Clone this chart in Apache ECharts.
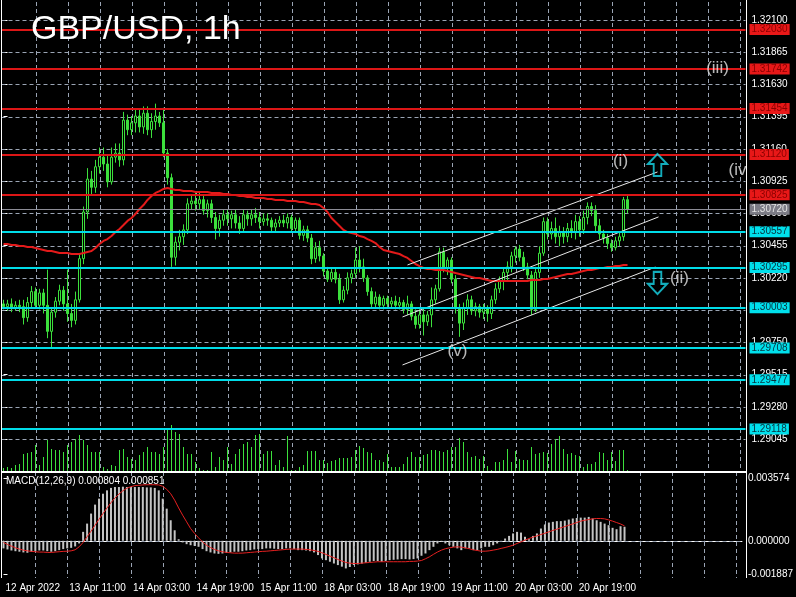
<!DOCTYPE html>
<html>
<head>
<meta charset="utf-8">
<script src="https://cdn.jsdelivr.net/npm/echarts@6/dist/echarts.min.js"></script>
<style>
html,body{margin:0;padding:0;background:#000;}
#chart{width:796px;height:597px;}
</style>
</head>
<body>
<div id="chart"></div>
<script>
// ---------- DATA ----------
const timeLabels = ['12 Apr 2022','13 Apr 11:00','14 Apr 03:00','14 Apr 19:00','15 Apr 11:00','18 Apr 03:00','18 Apr 19:00','19 Apr 11:00','20 Apr 03:00','20 Apr 19:00'];
const priceTicks = [1.32100,1.31865,1.31630,1.31395,1.31160,1.30925,1.30690,1.30455,1.30220,1.29985,1.29750,1.29515,1.29280,1.29045];
const macdTicks = [0.003574, 0, -0.001887];
const redLevels = [1.32030,1.31742,1.31454,1.31120,1.30825];
const cyanLevels = [1.30557,1.30295,1.30003,1.29708,1.29477,1.29118];
const currentPrice = 1.30720;

const opens = [1.3003,1.3001,1.3003,1.3000,1.3002,1.3001,1.2993,1.3004,1.3012,1.3002,
1.3011,1.3002,1.2983,1.2997,1.3005,1.3013,1.3003,1.2996,1.2991,1.3006,
1.3036,1.3070,1.3094,1.3088,1.3103,1.3110,1.3105,1.3092,1.3110,1.3113,
1.3108,1.3137,1.3130,1.3135,1.3140,1.3132,1.3142,1.3130,1.3136,1.3140,
1.3135,1.3113,1.3095,1.3037,1.3048,1.3052,1.3057,1.3076,1.3078,1.3076,
1.3079,1.3071,1.3076,1.3066,1.3058,1.3064,1.3068,1.3065,1.3068,1.3062,
1.3058,1.3068,1.3065,1.3068,1.3066,1.3063,1.3065,1.3064,1.3059,1.3062,
1.3064,1.3062,1.3066,1.3058,1.3064,1.3053,1.3057,1.3051,1.3036,1.3044,
1.3038,1.3027,1.3021,1.3026,1.3021,1.3006,1.3013,1.3022,1.3025,1.3035,
1.3030,1.3022,1.3012,1.3003,1.3008,1.3002,1.3007,1.3003,1.3005,1.3002,
1.3004,1.2999,1.3003,1.2994,1.2988,1.2995,1.2990,1.2995,1.3006,1.3014,
1.3041,1.3029,1.3035,1.3021,1.3000,1.2989,1.3000,1.3006,1.2998,1.3001,
1.2997,1.3000,1.2996,1.3006,1.3014,1.3020,1.3026,1.3030,1.3038,1.3043,
1.3037,1.3030,1.3024,1.2999,1.3026,1.3040,1.3063,1.3054,1.3058,1.3052,
1.3055,1.3052,1.3058,1.3055,1.3063,1.3057,1.3066,1.3074,1.3071,1.3060,
1.3054,1.3051,1.3047,1.3044,1.3049,1.3052,1.3079];
const highs = [1.3006,1.3006,1.3007,1.3005,1.3006,1.3006,1.3008,1.3016,1.3015,1.3014,
1.3014,1.3028,1.3000,1.3008,1.3017,1.3016,1.3028,1.3003,1.3012,1.3039,
1.3074,1.3102,1.3100,1.3108,1.3117,1.3117,1.3112,1.3117,1.3120,1.3120,
1.3143,1.3141,1.3140,1.3145,1.3145,1.3147,1.3147,1.3142,1.3149,1.3143,
1.3146,1.3116,1.3098,1.3052,1.3057,1.3061,1.3080,1.3083,1.3085,1.3084,
1.3082,1.3079,1.3079,1.3070,1.3068,1.3072,1.3072,1.3071,1.3072,1.3067,
1.3072,1.3071,1.3072,1.3073,1.3070,1.3069,1.3069,1.3066,1.3065,1.3067,
1.3068,1.3069,1.3068,1.3066,1.3066,1.3060,1.3060,1.3054,1.3048,1.3049,
1.3040,1.3030,1.3029,1.3029,1.3025,1.3016,1.3026,1.3028,1.3044,1.3045,
1.3036,1.3024,1.3015,1.3012,1.3010,1.3009,1.3009,1.3008,1.3009,1.3008,
1.3006,1.3009,1.3005,1.2999,1.2999,1.3000,1.2998,1.3015,1.3017,1.3044,
1.3044,1.3037,1.3037,1.3024,1.3003,1.3004,1.3010,1.3009,1.3004,1.3003,
1.3003,1.3002,1.3009,1.3018,1.3023,1.3029,1.3034,1.3041,1.3045,1.3046,
1.3041,1.3033,1.3027,1.3030,1.3045,1.3066,1.3066,1.3063,1.3066,1.3060,
1.3059,1.3062,1.3064,1.3068,1.3067,1.3071,1.3077,1.3077,1.3075,1.3065,
1.3057,1.3054,1.3050,1.3052,1.3055,1.3081,1.3082];
const lows = [1.2999,1.2998,1.2997,1.2998,1.2997,1.2988,1.2990,1.3000,1.3000,1.2999,
1.2996,1.2978,1.2971,1.2993,1.3002,1.2998,1.2990,1.2986,1.2988,1.3004,
1.3032,1.3065,1.3082,1.3084,1.3098,1.3100,1.3088,1.3090,1.3106,1.3103,
1.3104,1.3126,1.3126,1.3128,1.3128,1.3127,1.3126,1.3124,1.3130,1.3132,
1.3110,1.3090,1.3030,1.3031,1.3042,1.3046,1.3054,1.3072,1.3071,1.3072,
1.3068,1.3066,1.3062,1.3050,1.3052,1.3060,1.3060,1.3058,1.3058,1.3054,
1.3055,1.3060,1.3060,1.3062,1.3058,1.3060,1.3060,1.3056,1.3056,1.3059,
1.3059,1.3058,1.3055,1.3055,1.3050,1.3049,1.3048,1.3032,1.3033,1.3034,
1.3023,1.3019,1.3019,1.3018,1.3003,1.3004,1.3010,1.3018,1.3022,1.3026,
1.3019,1.3009,1.3000,1.3000,1.2999,1.2999,1.3000,1.3000,1.2999,1.2999,
1.2996,1.2995,1.2991,1.2985,1.2985,1.2980,1.2987,1.2986,1.3003,1.3012,
1.3026,1.3024,1.3018,1.2996,1.2979,1.2984,1.2995,1.2995,1.2994,1.2993,
1.2992,1.2990,1.2992,1.3003,1.3011,1.3013,1.3020,1.3026,1.3033,1.3034,
1.3027,1.3021,1.2995,1.2997,1.3022,1.3038,1.3050,1.3050,1.3047,1.3045,
1.3047,1.3048,1.3051,1.3050,1.3052,1.3054,1.3061,1.3067,1.3056,1.3050,
1.3047,1.3043,1.3041,1.3042,1.3045,1.3049,1.3069];
const closes = [1.3001,1.3003,1.3000,1.3002,1.3001,1.2993,1.3004,1.3012,1.3002,1.3011,
1.3002,1.2983,1.2997,1.3005,1.3013,1.3003,1.2996,1.2991,1.3006,1.3036,
1.3070,1.3094,1.3088,1.3103,1.3110,1.3105,1.3092,1.3110,1.3113,1.3108,
1.3137,1.3130,1.3135,1.3140,1.3132,1.3142,1.3130,1.3136,1.3140,1.3135,
1.3113,1.3095,1.3037,1.3048,1.3052,1.3057,1.3076,1.3078,1.3076,1.3079,
1.3071,1.3076,1.3066,1.3058,1.3064,1.3068,1.3065,1.3068,1.3062,1.3058,
1.3068,1.3065,1.3068,1.3066,1.3063,1.3065,1.3064,1.3059,1.3062,1.3064,
1.3062,1.3066,1.3058,1.3064,1.3053,1.3057,1.3051,1.3036,1.3044,1.3038,
1.3027,1.3021,1.3026,1.3021,1.3006,1.3013,1.3022,1.3025,1.3035,1.3030,
1.3022,1.3012,1.3003,1.3008,1.3002,1.3007,1.3003,1.3005,1.3002,1.3004,
1.2999,1.3003,1.2994,1.2988,1.2995,1.2990,1.2995,1.3006,1.3014,1.3041,
1.3029,1.3035,1.3021,1.3000,1.2989,1.3000,1.3006,1.2998,1.3001,1.2997,
1.3000,1.2996,1.3006,1.3014,1.3020,1.3026,1.3030,1.3038,1.3043,1.3037,
1.3030,1.3024,1.2999,1.3026,1.3040,1.3063,1.3054,1.3058,1.3052,1.3055,
1.3052,1.3058,1.3055,1.3063,1.3057,1.3066,1.3074,1.3071,1.3060,1.3054,
1.3051,1.3047,1.3044,1.3049,1.3052,1.3079,1.3072];
const maValues = [1.30467,1.30467,1.30460,1.30460,1.30452,1.30452,1.30445,1.30445,1.30438,1.30430,
1.30423,1.30416,1.30416,1.30409,1.30401,1.30401,1.30401,1.30394,1.30394,1.30394,
1.30401,1.30409,1.30416,1.30438,1.30467,1.30489,1.30503,1.30525,1.30554,1.30576,
1.30605,1.30635,1.30656,1.30686,1.30722,1.30751,1.30788,1.30817,1.30839,1.30853,
1.30868,1.30875,1.30868,1.30861,1.30861,1.30853,1.30853,1.30853,1.30846,1.30846,
1.30846,1.30846,1.30839,1.30839,1.30839,1.30831,1.30831,1.30824,1.30824,1.30817,
1.30817,1.30810,1.30810,1.30802,1.30802,1.30802,1.30795,1.30795,1.30788,1.30788,
1.30788,1.30780,1.30780,1.30780,1.30773,1.30773,1.30766,1.30758,1.30758,1.30751,
1.30729,1.30700,1.30656,1.30627,1.30598,1.30569,1.30554,1.30547,1.30540,1.30525,
1.30518,1.30503,1.30489,1.30474,1.30445,1.30423,1.30416,1.30409,1.30401,1.30394,
1.30379,1.30365,1.30343,1.30321,1.30306,1.30292,1.30285,1.30285,1.30277,1.30277,
1.30277,1.30270,1.30263,1.30255,1.30248,1.30241,1.30234,1.30226,1.30219,1.30219,
1.30212,1.30204,1.30197,1.30197,1.30197,1.30197,1.30197,1.30197,1.30197,1.30197,
1.30197,1.30197,1.30204,1.30204,1.30204,1.30212,1.30212,1.30219,1.30226,1.30234,
1.30241,1.30248,1.30248,1.30255,1.30263,1.30270,1.30277,1.30277,1.30285,1.30292,
1.30292,1.30299,1.30299,1.30306,1.30306,1.30314,1.30314];
const volumes = [600,800,600,1200,1400,3400,3600,3800,5200,1200,
2800,6200,4400,4200,4200,3800,5200,5800,6400,7200,
6200,5200,3800,3800,3800,800,400,1200,1000,4200,
4400,2800,2400,2200,3200,3800,4800,3800,3800,3400,
4800,8200,9200,7800,7400,4800,3400,3400,1800,600,
200,200,3800,800,2800,2200,4800,1400,3400,4400,
5400,5800,4800,7200,7400,3400,4000,4000,1200,2200,
800,7000,200,200,800,1200,4000,4000,4000,2200,
2200,1600,2000,2200,2600,2600,2600,2800,4200,5000,
4600,3800,3600,2200,2200,1800,3400,800,800,800,
1400,2800,3800,2800,2800,3200,3400,4200,4200,4000,
3800,4200,4800,4800,6600,5800,3800,2800,3000,2400,
3000,1000,200,1800,1800,2200,4400,1800,4000,2400,
2200,2200,4800,3400,3600,3800,3600,5400,6400,7000,
4400,3400,3600,3200,3000,800,1400,1400,1800,3800,
3600,2200,3800,2000,4200,4200,200];
const macdHist = [-0.00043,-0.00049,-0.00055,-0.00059,-0.00062,-0.00066,-0.00068,-0.00062,-0.00059,-0.00055,
-0.00055,-0.00059,-0.00062,-0.00059,-0.00053,-0.00047,-0.00043,-0.00040,-0.00032,-0.00015,
0.00051,0.00098,0.00155,0.00206,0.00240,0.00268,0.00287,0.00301,0.00306,0.00306,
0.00308,0.00306,0.00306,0.00306,0.00306,0.00306,0.00304,0.00304,0.00301,0.00287,
0.00240,0.00183,0.00117,0.00060,0.00009,-0.00009,-0.00019,-0.00025,-0.00028,-0.00034,
-0.00047,-0.00059,-0.00066,-0.00072,-0.00074,-0.00072,-0.00068,-0.00066,-0.00062,-0.00062,
-0.00059,-0.00055,-0.00053,-0.00049,-0.00047,-0.00047,-0.00043,-0.00043,-0.00045,-0.00047,
-0.00047,-0.00043,-0.00043,-0.00047,-0.00053,-0.00053,-0.00055,-0.00059,-0.00066,-0.00081,
-0.00100,-0.00110,-0.00119,-0.00129,-0.00138,-0.00147,-0.00157,-0.00149,-0.00138,-0.00134,
-0.00130,-0.00125,-0.00119,-0.00115,-0.00115,-0.00119,-0.00115,-0.00110,-0.00108,-0.00106,
-0.00104,-0.00104,-0.00106,-0.00104,-0.00100,-0.00085,-0.00072,-0.00053,-0.00034,-0.00015,
-0.00006,-0.00015,-0.00025,-0.00034,-0.00043,-0.00053,-0.00043,-0.00043,-0.00053,-0.00053,
-0.00043,-0.00034,-0.00034,-0.00025,-0.00015,-0.00002,0.00013,0.00028,0.00042,0.00051,
0.00047,0.00023,0.00009,0.00028,0.00042,0.00070,0.00093,0.00104,0.00108,0.00112,
0.00112,0.00115,0.00121,0.00127,0.00130,0.00132,0.00132,0.00136,0.00127,0.00117,
0.00108,0.00098,0.00089,0.00074,0.00066,0.00083,0.00080];
const macdSignal = [-0.00009,-0.00021,-0.00030,-0.00040,-0.00047,-0.00053,-0.00057,-0.00060,-0.00062,-0.00064,
-0.00064,-0.00066,-0.00066,-0.00064,-0.00062,-0.00060,-0.00059,-0.00057,-0.00051,-0.00034,
-0.00009,0.00023,0.00055,0.00089,0.00123,0.00155,0.00187,0.00217,0.00244,0.00266,
0.00285,0.00299,0.00308,0.00314,0.00316,0.00318,0.00319,0.00319,0.00319,0.00318,
0.00310,0.00293,0.00268,0.00231,0.00187,0.00146,0.00108,0.00070,0.00042,0.00017,
-0.00006,-0.00025,-0.00038,-0.00049,-0.00057,-0.00062,-0.00066,-0.00068,-0.00070,-0.00070,
-0.00070,-0.00068,-0.00066,-0.00064,-0.00062,-0.00060,-0.00059,-0.00057,-0.00055,-0.00053,
-0.00051,-0.00049,-0.00047,-0.00047,-0.00047,-0.00047,-0.00049,-0.00051,-0.00055,-0.00060,
-0.00068,-0.00077,-0.00087,-0.00096,-0.00106,-0.00115,-0.00123,-0.00127,-0.00129,-0.00129,
-0.00127,-0.00125,-0.00123,-0.00121,-0.00119,-0.00119,-0.00119,-0.00119,-0.00119,-0.00119,
-0.00119,-0.00119,-0.00117,-0.00117,-0.00115,-0.00112,-0.00102,-0.00091,-0.00077,-0.00064,
-0.00053,-0.00045,-0.00040,-0.00036,-0.00034,-0.00036,-0.00040,-0.00045,-0.00051,-0.00055,
-0.00059,-0.00059,-0.00057,-0.00053,-0.00049,-0.00043,-0.00038,-0.00032,-0.00025,-0.00015,
-0.00006,0.00004,0.00013,0.00021,0.00028,0.00036,0.00043,0.00051,0.00059,0.00066,
0.00074,0.00081,0.00089,0.00096,0.00104,0.00112,0.00117,0.00121,0.00125,0.00127,
0.00127,0.00125,0.00119,0.00112,0.00104,0.00096,0.00085];
// trend channel lines: [bar, price, bar, price]
const channelLines = [[101, 1.30314, 163.5, 1.30992],[99.75, 1.29935, 163.75, 1.30664],[99.75, 1.29585, 163, 1.30299]];
// wave labels anchored at [bar, price]
const waveLabels = [['(i)',154.25,1.31072],['(ii)',169,1.30219],['(iii)',178.5,1.31750],['(iv',183.5,1.31006],['(v)',113.5,1.29687]];
const arrowUp = [163.5, 1.31043];
const arrowDown = [163.5, 1.30183];
const macdTitle = 'MACD(12,26,9) 0.000804 0.000851';
const chartTitle = 'GBP/USD, 1h';

// ---------- BUILD ----------
const NBARS = 186; // visible slots incl. right shift
const cats = Array.from({length: NBARS}, (_, i) => String(i));
const candleData = opens.map((o, i) => [o, closes[i], lows[i], highs[i]]);
const FONT = 'Liberation Sans';
const GREEN = '#3ce03c';
const GRIDC = '#9aa4b4';
const XMIN = -0.5, XMAX = NBARS - 0.5;
const vGridIdx = [];
for (let i = 8; i < NBARS; i += 8) vGridIdx.push(i);

const PMIN = 1.28812, PMAX = 1.32231;
const MMIN = -0.002115, MMAX = 0.003915;

function levelLine(v, color, width, bg, fg) {
  return {
    yAxis: v,
    lineStyle: {color: color, width: width, type: 'solid'},
    label: {show: true, position: 'end', distance: 4, formatter: v.toFixed(5),
      backgroundColor: bg, color: fg, padding: [1, 2, 0, 2], fontSize: 10, lineHeight: 10, fontFamily: FONT}
  };
}
const levelData = [];
redLevels.forEach(v => levelData.push(levelLine(v, '#dc1616', 2, '#e81818', '#8a0000')));
cyanLevels.forEach(v => levelData.push(levelLine(v, '#00dce8', 2, '#00e0ec', '#08303c')));
levelData.push(levelLine(currentPrice, '#8c8c96', 1, '#7c7c86', '#e4e4e4'));

// grid lines drawn with a custom series (crisp 1px dashed)
function vGridRender(params, api) {
  const cs = params.coordSys;
  const x = Math.round(api.coord([api.value(0), api.value(1)])[0]) + 0.5;
  return {type: 'line', shape: {x1: x, y1: cs.y, x2: x, y2: cs.y + cs.height},
    style: {stroke: GRIDC, lineWidth: 1, lineDash: [4, 3]}};
}
function hGridRender(params, api) {
  const cs = params.coordSys;
  const y = Math.round(api.coord([api.value(0), api.value(1)])[1]) + 0.5;
  return {type: 'line', shape: {x1: cs.x, y1: y, x2: cs.x + cs.width, y2: y},
    style: {stroke: GRIDC, lineWidth: 1, lineDash: [4, 3]}};
}

const series = [];
series.push({type: 'custom', xAxisIndex: 1, yAxisIndex: 0, z: 1, silent: true, clip: false,
  data: vGridIdx.map(i => [i, 1.30]), renderItem: vGridRender});
series.push({type: 'custom', xAxisIndex: 4, yAxisIndex: 1, z: 1, silent: true, clip: false,
  data: vGridIdx.map(i => [i, 0]), renderItem: vGridRender});
series.push({type: 'custom', xAxisIndex: 1, yAxisIndex: 0, z: 1, silent: true, clip: false,
  data: priceTicks.map(p => [90, p]), renderItem: hGridRender});
series.push({type: 'custom', xAxisIndex: 4, yAxisIndex: 1, z: 1, silent: true, clip: false,
  data: [[90, 0]], renderItem: hGridRender});

series.push({
  type: 'bar', name: 'volume', xAxisIndex: 3, yAxisIndex: 2, data: volumes, barWidth: 1,
  itemStyle: {color: GREEN}, silent: true, z: 2
});
series.push({
  type: 'candlestick', name: 'GBPUSD', xAxisIndex: 0, yAxisIndex: 0, data: candleData, barWidth: 3,
  itemStyle: {color: '#000', color0: GREEN, borderColor: GREEN, borderColor0: GREEN, borderWidth: 1},
  markLine: {silent: true, symbol: ['none','none'], animation: false, precision: 5, data: levelData}
});
series.push({
  type: 'line', name: 'MA', xAxisIndex: 0, yAxisIndex: 0, data: maValues, showSymbol: false, symbol: 'none',
  lineStyle: {color: '#e41a1a', width: 2}, z: 3, silent: true
});
channelLines.forEach(c => series.push({
  type: 'line', xAxisIndex: 1, yAxisIndex: 0, data: [[c[0], c[1]], [c[2], c[3]]], symbol: 'none',
  lineStyle: {color: '#e8e8e8', width: 1}, z: 4, silent: true
}));
series.push({
  type: 'scatter', xAxisIndex: 1, yAxisIndex: 0, symbolSize: 1, itemStyle: {color: 'rgba(0,0,0,0)'}, z: 6, silent: true,
  data: waveLabels.map(w => ({name: w[0], value: [w[1], w[2]]})),
  label: {show: true, position: 'inside', formatter: p => p.name, color: '#e6e6e6', fontSize: 17, fontFamily: FONT}
});
series.push({
  type: 'scatter', xAxisIndex: 1, yAxisIndex: 0, z: 6, silent: true,
  symbol: 'path://M10,0 L20,10 L14,10 L14,22 L6,22 L6,10 L0,10 Z', symbolSize: [19, 22],
  itemStyle: {color: 'rgba(0,0,0,0)', borderColor: '#18d8ea', borderWidth: 2},
  data: [arrowUp]
});
series.push({
  type: 'scatter', xAxisIndex: 1, yAxisIndex: 0, z: 6, silent: true,
  symbol: 'path://M6,0 L14,0 L14,12 L20,12 L10,22 L0,12 L6,12 Z', symbolSize: [19, 22],
  itemStyle: {color: 'rgba(0,0,0,0)', borderColor: '#18d8ea', borderWidth: 2},
  data: [arrowDown]
});
series.push({
  type: 'bar', name: 'MACD', xAxisIndex: 2, yAxisIndex: 1, data: macdHist, barWidth: 2,
  itemStyle: {color: '#c4c4c4'}, silent: true, z: 2
});
series.push({
  type: 'line', name: 'Signal', xAxisIndex: 2, yAxisIndex: 1, data: macdSignal, symbol: 'none',
  lineStyle: {color: '#e62020', width: 1}, z: 4, silent: true
});

const option = {
  backgroundColor: '#000',
  animation: false,
  textStyle: {fontFamily: FONT},
  grid: [
    {left: 1.5, width: 744, top: 2, height: 469},
    {left: 1.5, width: 744, top: 472, height: 106},
    {left: 1.5, width: 744, top: 424, height: 47}
  ],
  xAxis: [
    {type: 'category', gridIndex: 0, data: cats, show: false},
    {type: 'value', gridIndex: 0, min: XMIN, max: XMAX, show: false},
    {type: 'category', gridIndex: 1, data: cats, position: 'bottom',
      axisLine: {show: true, lineStyle: {color: '#fff', width: 1}},
      axisTick: {show: true, interval: 15, alignWithLabel: true, length: 5, lineStyle: {color: '#fff'}},
      axisLabel: {show: true, interval: 15, align: 'left', color: '#fff', fontSize: 10, margin: 5, padding: [0,0,0,2],
        formatter: (v, idx) => (idx % 16 === 0 && timeLabels[idx / 16]) ? timeLabels[idx / 16] : ''},
      splitLine: {show: false}},
    {type: 'category', gridIndex: 2, data: cats, show: false},
    {type: 'value', gridIndex: 1, min: XMIN, max: XMAX, show: false}
  ],
  yAxis: [
    {type: 'value', gridIndex: 0, position: 'right', min: PMIN, max: PMAX, scale: true,
      axisLine: {show: false},
      axisTick: {show: true, length: 4, customValues: priceTicks, lineStyle: {color: '#fff'}},
      axisLabel: {show: true, customValues: priceTicks, color: '#fff', fontSize: 10, margin: 6, formatter: v => v.toFixed(5)},
      splitLine: {show: false}},
    {type: 'value', gridIndex: 1, position: 'right', min: MMIN, max: MMAX,
      axisLine: {show: false},
      axisTick: {show: true, length: 4, customValues: macdTicks, lineStyle: {color: '#fff'}},
      axisLabel: {show: true, customValues: macdTicks, color: '#fff', fontSize: 10, margin: 6,
        formatter: v => Math.abs(v) < 1e-12 ? '0.000000' : v.toFixed(6)},
      splitLine: {show: false}},
    {type: 'value', gridIndex: 2, min: 0, max: 9400, show: false}
  ],
  series: series,
  graphic: [
    {type: 'rect', shape: {x: 1, y: 0, width: 1, height: 578}, style: {fill: '#fff'}, silent: true, z: 10},
    {type: 'rect', shape: {x: 746, y: 0, width: 1, height: 578}, style: {fill: '#fff'}, silent: true, z: 10},
    {type: 'rect', shape: {x: 1, y: 471, width: 746, height: 2}, style: {fill: '#fff'}, silent: true, z: 10},
    {type: 'text', x: 31, y: 13, silent: true, z: 10,
      style: {text: chartTitle, fill: '#fff', font: '34px "Liberation Sans"', verticalAlign: 'top'}},
    {type: 'text', x: 6, y: 476, silent: true, z: 10,
      style: {text: macdTitle, fill: '#fff', font: '10px "Liberation Sans"', verticalAlign: 'top'}}
  ]
};

const chart = echarts.init(document.getElementById('chart'), null, {renderer: 'canvas'});
chart.setOption(option);
</script>
</body>
</html>
